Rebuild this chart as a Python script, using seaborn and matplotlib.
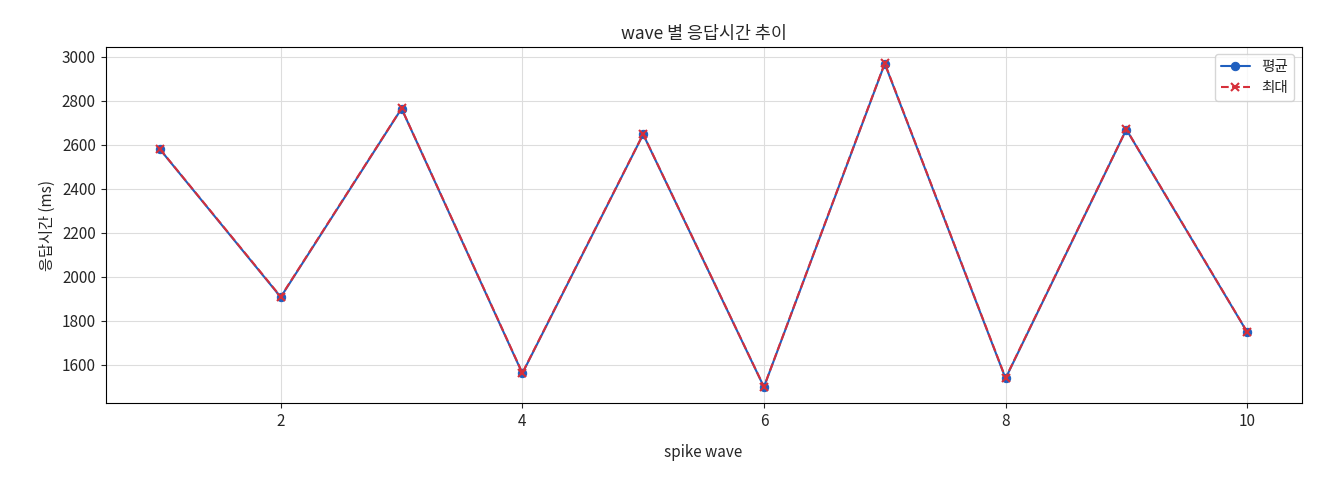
import matplotlib
matplotlib.use('Agg')
import matplotlib.pyplot as plt
import seaborn as sns
import pandas as pd

waves = [1, 2, 3, 4, 5, 6, 7, 8, 9, 10]
avg_ms = [2579, 1908, 2764, 1562, 2647, 1500, 2968, 1539, 2669, 1749]
max_ms = [2580, 1910, 2765, 1564, 2648, 1501, 2970, 1541, 2670, 1750]

sns.set_style('white')
plt.rcParams['font.family'] = ['Noto Sans CJK KR', 'DejaVu Sans']
plt.rcParams['axes.unicode_minus'] = False

df = pd.DataFrame({'wave': waves, 'avg': avg_ms, 'max': max_ms})

fig, ax = plt.subplots(figsize=(13.2, 4.8), dpi=100)
sns.lineplot(data=df, x='wave', y='avg', marker='o', color='#1f5fbf', linewidth=1.5,
             markersize=6, markeredgecolor='#1f5fbf', label='평균', ax=ax)
sns.lineplot(data=df, x='wave', y='max', marker='x', color='#d62f3a', linewidth=1.5,
             markersize=6, markeredgecolor='#d62f3a', markeredgewidth=1.5, label='최대', ax=ax)
ax.lines[1].set_linestyle('--')

ax.set_title('wave 별 응답시간 추이', fontsize=12.5)
ax.set_xlabel('spike wave', fontsize=11, labelpad=10)
ax.set_ylabel('응답시간 (ms)', fontsize=11)
ax.grid(True, color='#dddddd', linewidth=0.8)
for s in ax.spines.values():
    s.set_color('black')
    s.set_linewidth(0.8)
ax.tick_params(axis='both', labelsize=11, length=3.5, left=True, bottom=True)
handles, labels = ax.get_legend_handles_labels()
handles[1].set_linestyle('--')
leg = ax.legend(handles, labels, loc='upper right', fontsize=10.5, frameon=True)
leg.get_frame().set_edgecolor('#cccccc')

fig.subplots_adjust(left=0.08, right=0.986, top=0.902, bottom=0.16)
fig.savefig('out.png')
